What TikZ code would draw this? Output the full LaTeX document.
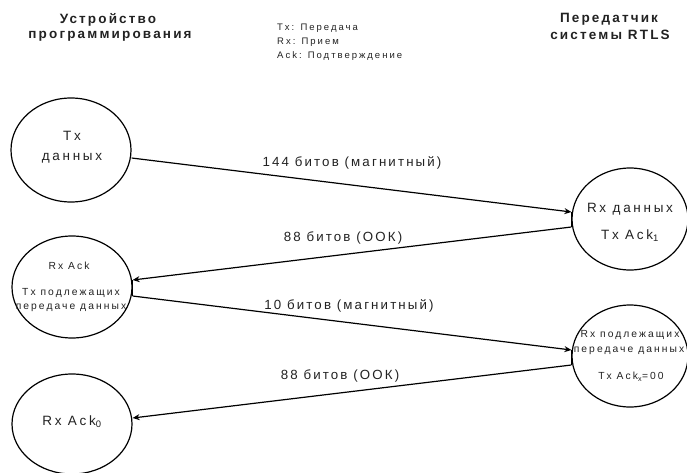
\documentclass[tikz,border=0pt]{standalone}
\usepackage{fontspec}
\setmainfont{Liberation Sans}
\newfontfamily\hdrfont[LetterSpace=16]{Liberation Sans}
\newfontfamily\lblfont[LetterSpace=16]{Liberation Sans}
\newfontfamily\bubfont[LetterSpace=20]{Liberation Sans}
\newfontfamily\legfont[LetterSpace=21]{Liberation Sans}
\usetikzlibrary{arrows.meta,shapes.geometric}
\definecolor{ink}{HTML}{222222}
\begin{document}
\begin{tikzpicture}[x=1pt,y=-1pt,
  bub/.style={draw=black, line width=1.2pt, ellipse, inner sep=0pt},
  txt/.style={inner sep=0pt, text=ink, text height=0.72em, text depth=0.2em},
  hdr/.style={txt, font=\hdrfont\bfseries\fontsize{13.5}{16}\selectfont, align=center},
  leg/.style={txt, font=\legfont\fontsize{9.5}{11}\selectfont, anchor=west},
  elbl/.style={txt, font=\lblfont\fontsize{13.3}{15}\selectfont},
  big/.style={txt, font=\bubfont\fontsize{13.5}{16}\selectfont},
  small/.style={txt, font=\bubfont\fontsize{10.3}{12}\selectfont},
  conn/.style={line width=1.2pt, -{Stealth[length=7pt,width=6pt]}},
  seg/.style={line width=1.2pt}
]
\useasboundingbox (0,0) rectangle (687,473);

% headers
\node[hdr] (h1a) at (108,21) {Устройство};
\node[hdr] (h1b) at (110,36) {программирования};
\node[hdr] (h2a) at (609,20) {Передатчик};
\node[hdr] (h2b) at (610,37) {системы RTLS};

% legend
\node[leg] (l1) at (277,28) {Tx: Передача};
\node[leg] (l2) at (277,42) {Rx: Прием};
\node[leg] (l3) at (277,56) {Ack: Подтверждение};

% ellipses
\node[bub, minimum width=120pt, minimum height=104pt] (e1) at (71,150) {};
\node[bub, minimum width=120pt, minimum height=102pt] (e2) at (72,287) {};
\node[bub, minimum width=120pt, minimum height=100pt] (e3) at (72,424) {};
\node[bub, minimum width=116pt, minimum height=102pt] (e4) at (630,219) {};
\node[bub, minimum width=116pt, minimum height=102pt] (e5) at (630,356) {};

% ellipse texts
\node[big] (t1a) at (72,138) {Tx};
\node[big] (t1b) at (72,158) {данных};
\node[small] (t2a) at (69,267) {Rx Ack};
\node[small] (t2b) at (71,293) {Tx подлежащих};
\node[small] (t2c) at (71,307) {передаче данных};
\node[big] (t3a) at (72,423) {Rx Ack\textsubscript{0}};
\node[big] (t4a) at (630,210) {Rx данных};
\node[big] (t4b) at (630,237) {Tx Ack\textsubscript{1}};
\node[small] (t5a) at (630,335) {Rx подлежащих};
\node[small] (t5b) at (629,350) {передаче данных};
\node[small] (t5c) at (631,377) {Tx Ack\textsubscript{x}=00};

% short vertical joints
\draw[seg] ([yshift=7pt]e4.west) -- ([yshift=-8pt]e4.west);
\draw[seg] ([yshift=7pt]e2.east) -- ([yshift=-9pt]e2.east);
\draw[seg] ([yshift=6pt]e5.west) -- ([yshift=-9pt]e5.west);

% connectors
\draw[conn] ([yshift=-8pt]e1.east) -- ([yshift=7pt]e4.west);
\draw[conn] ([yshift=-8pt]e4.west) -- ([yshift=7pt]e2.east);
\draw[conn] ([yshift=-9pt]e2.east) -- ([yshift=6pt]e5.west);
\draw[conn] ([yshift=-9pt]e5.west) -- ([yshift=6pt]e3.east);

% connector labels
\node[elbl] (c1) at (352,164) {144 битов (магнитный)};
\node[elbl] (c2) at (343,239) {88 битов (ООК)};
\node[elbl] (c3) at (349,307) {10 битов (магнитный)};
\node[elbl] (c4) at (340,377) {88 битов (ООК)};
\end{tikzpicture}
\end{document}
